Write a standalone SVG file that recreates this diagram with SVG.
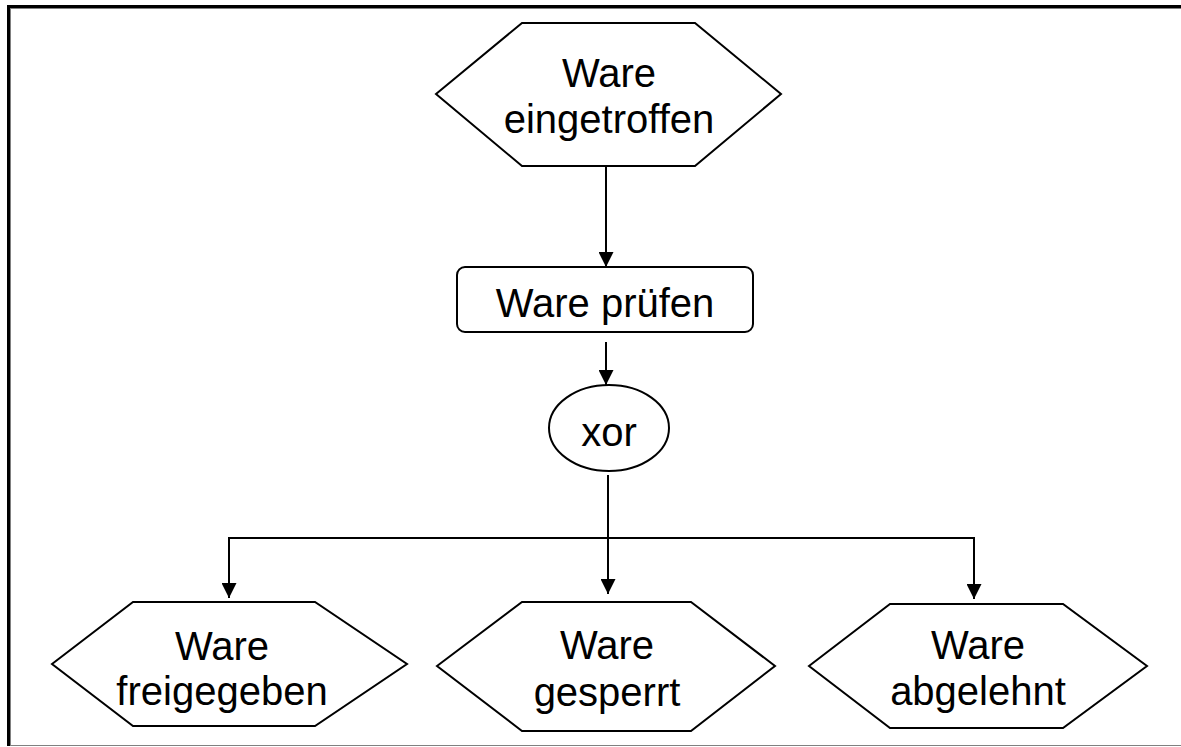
<svg xmlns="http://www.w3.org/2000/svg" width="1181" height="747" viewBox="0 0 1181 747">
<defs>
<marker id="ah" viewBox="0 0 10 10" refX="10" refY="5" markerWidth="7.5" markerHeight="7.5" markerUnits="strokeWidth" orient="auto">
<path d="M0,0 L10,5 L0,10 Z" fill="#000"/>
</marker>
<style>
.shape{fill:#fff;stroke:#000;stroke-width:2}
.lbl{font-family:"Liberation Sans",Arial,sans-serif;font-size:40px;fill:#000;text-anchor:middle}
.conn{fill:none;stroke:#000;stroke-width:2}
</style>
</defs>
<rect x="0" y="0" width="1181" height="747" fill="#fff"/>
<rect x="10.5" y="8.5" width="1180" height="737" fill="none" stroke="#808080" stroke-width="1"/>
<path d="M8.5,746 V6.5 H1181" fill="none" stroke="#000" stroke-width="3"/>

<g id="connectors">
<path class="conn" d="M606,166 V267" marker-end="url(#ah)"/>
<path class="conn" d="M606,342 V385" marker-end="url(#ah)"/>
<path class="conn" d="M608,475 V538"/>
<path class="conn" d="M229,598 V538 H974 V599"/>
<path class="conn" d="M229,540 V598" marker-end="url(#ah)"/>
<path class="conn" d="M608,538 V594" marker-end="url(#ah)"/>
<path class="conn" d="M974,540 V599" marker-end="url(#ah)"/>
</g>

<g id="n-eingetroffen">
<polygon class="shape" points="436,94 522,23 695,23 781,94 695,166 522,166"/>
<text class="lbl" x="609" y="87">Ware</text>
<text class="lbl" x="609" y="133">eingetroffen</text>
</g>

<g id="n-pruefen">
<rect class="shape" x="457" y="267" width="296" height="65" rx="8" ry="8"/>
<text class="lbl" x="605" y="317">Ware prüfen</text>
</g>

<g id="n-xor">
<ellipse class="shape" cx="609" cy="428" rx="60" ry="43"/>
<text class="lbl" x="609" y="446">xor</text>
</g>

<g id="n-freigegeben">
<polygon class="shape" points="52,664 133,602 315,602 407,664 315,726 133,726"/>
<text class="lbl" x="222" y="660">Ware</text>
<text class="lbl" x="222" y="705">freigegeben</text>
</g>

<g id="n-gesperrt">
<polygon class="shape" points="437,666 522,602 691,602 775,666 691,731 522,731"/>
<text class="lbl" x="607" y="659">Ware</text>
<text class="lbl" x="607" y="706">gesperrt</text>
</g>

<g id="n-abgelehnt">
<polygon class="shape" points="809,666 890,604 1063,604 1147,666 1063,728 890,728"/>
<text class="lbl" x="978" y="659">Ware</text>
<text class="lbl" x="978" y="705">abgelehnt</text>
</g>
</svg>
